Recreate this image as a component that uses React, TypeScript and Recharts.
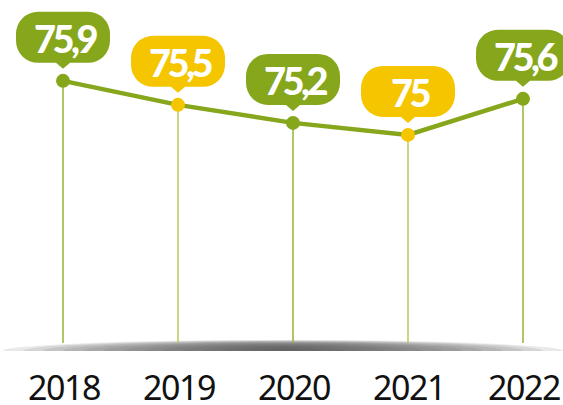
import { LineChart, Line, XAxis, YAxis } from 'recharts';

const years = ['2018', '2019', '2020', '2021', '2022'];
const values = [75.9, 75.5, 75.2, 75, 75.6];
const valueLabels = ['75,9', '75,5', '75,2', '75', '75,6'];

const GREEN = '#86a61c';
const YELLOW = '#f5c500';
const PLOT_BOTTOM = 343;

const data = years.map((year, i) => ({ year, value: values[i], label: valueLabels[i] }));

const pointColor = (i: number) => (i % 2 === 1 ? YELLOW : GREEN);

// dot with the drop line under it and the speech bubble above it
function BubbleDot(props: any) {
  const { cx, cy, index, payload } = props;
  if (cx == null || cy == null) return null;
  const color = pointColor(index);
  const w = 94;
  const h = 51;
  const r = 22;
  const x0 = cx - w / 2;
  const y0 = cy - 69;
  const y1 = y0 + h;
  const bubble = [
    `M ${x0 + r} ${y0}`,
    `H ${x0 + w - r}`,
    `A ${r} ${r} 0 0 1 ${x0 + w} ${y0 + r}`,
    `V ${y1 - r}`,
    `A ${r} ${r} 0 0 1 ${x0 + w - r} ${y1}`,
    `H ${cx + 7}`,
    `L ${cx} ${y1 + 6}`,
    `L ${cx - 7} ${y1}`,
    `H ${x0 + r}`,
    `A ${r} ${r} 0 0 1 ${x0} ${y1 - r}`,
    `V ${y0 + r}`,
    `A ${r} ${r} 0 0 1 ${x0 + r} ${y0}`,
    'Z',
  ].join(' ');
  return (
    <g>
      <line x1={cx} y1={cy} x2={cx} y2={PLOT_BOTTOM} stroke={index % 2 === 1 ? '#b2cb5a' : '#95b334'} strokeWidth={1.5} />
      <circle cx={cx} cy={cy} r={7} fill={color} />
      <path d={bubble} fill={color} />
      <text
        x={cx + 1.5}
        y={y0 + h / 2 + 1}
        textAnchor="middle"
        dominantBaseline="central"
        fill="#fff"
        fontFamily="Lato, 'Noto Sans', sans-serif"
        fontWeight={900}
        fontSize={38}
        letterSpacing={-3.5}
      >
        {payload.label}
      </text>
    </g>
  );
}

function YearTick(props: any) {
  const { x, y, payload } = props;
  return (
    <text
      x={x + 1}
      y={y + 57}
      textAnchor="middle"
      fill="#111"
      fontFamily="'Noto Sans', sans-serif"
      fontSize={34}
      letterSpacing={-1.5}
    >
      {payload.value}
    </text>
  );
}

// soft grey floor shadow: stacked half ellipses, darker toward the middle
function FloorShadow() {
  const layers = 14;
  const cx = 283;
  const base = 351;
  return (
    <svg width={563} height={405} style={{ position: 'absolute', left: 0, top: 0 }}>
      {Array.from({ length: layers }, (_, k) => {
        const s = 1 - k / layers;
        const rx = 280 * s;
        const ry = 11 * Math.sqrt(s);
        return (
          <path
            key={k}
            d={`M ${cx - rx} ${base} A ${rx} ${ry} 0 0 1 ${cx + rx} ${base} Z`}
            fill="#4a4a4a"
            fillOpacity={0.12}
          />
        );
      })}
    </svg>
  );
}

export default function App() {
  return (
    <div style={{ position: 'absolute', left: 0, top: 0, width: 563, height: 405, background: '#fff' }}>
      <FloorShadow />
      <div style={{ position: 'absolute', left: 0, top: 0 }}>
        <LineChart width={563} height={405} data={data} margin={{ top: 0, right: 0, bottom: 0, left: 0 }}>
          <XAxis
            dataKey="year"
            height={62}
            padding={{ left: 63, right: 40 }}
            axisLine={false}
            tickLine={false}
            tickSize={0}
            tickMargin={0}
            interval={0}
            tick={<YearTick />}
          />
          <YAxis hide domain={[71.535, 77.246]} />
          <Line
            type="linear"
            dataKey="value"
            stroke={GREEN}
            strokeWidth={4.5}
            dot={<BubbleDot />}
            activeDot={false}
            isAnimationActive={false}
          />
        </LineChart>
      </div>
    </div>
  );
}
